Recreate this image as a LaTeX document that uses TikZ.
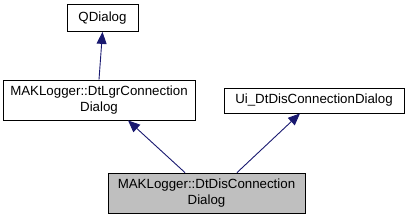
\documentclass[tikz,border=0pt]{standalone}
\usepackage{fontspec}
\setmainfont{Liberation Sans}
\usetikzlibrary{arrows.meta,calc}
\begin{document}
\begin{tikzpicture}[x=1pt,y=-1pt,
  cls/.style={draw=black,line width=0.8pt,fill=white,inner sep=0pt,align=center,
    font=\fontsize{13.3}{15.5}\selectfont},
  cur/.style={cls,fill=black!25},
  inh/.style={draw={rgb,255:red,25;green,25;blue,112},line width=0.9pt,
    -{Triangle[length=12pt,width=10pt]},color={rgb,255:red,25;green,25;blue,112}}]
\useasboundingbox (0,0) rectangle (409,219);
\node[cls,minimum width=71pt,minimum height=27pt] (qd) at (102.5,18) {QDialog};
\node[cls,minimum width=192pt,minimum height=40pt] (lgr) at (99,100) {MAKLogger::DtLgrConnection\\Dialog};
\node[cls,minimum width=180pt,minimum height=25pt] (ui) at (314,100.5) {Ui\_DtDisConnectionDialog};
\node[cur,minimum width=197pt,minimum height=40pt] (dis) at (206.5,193) {MAKLogger::DtDisConnection\\Dialog};
\draw[inh] (lgr.north) -- (qd.south);
\draw[inh] ($(dis.north)+(-21.5,0)$) -- ($(lgr.south)+(29,0)$);
\draw[inh] ($(dis.north)+(30.5,0)$) -- ($(ui.south)+(-14,0)$);
\end{tikzpicture}
\end{document}
